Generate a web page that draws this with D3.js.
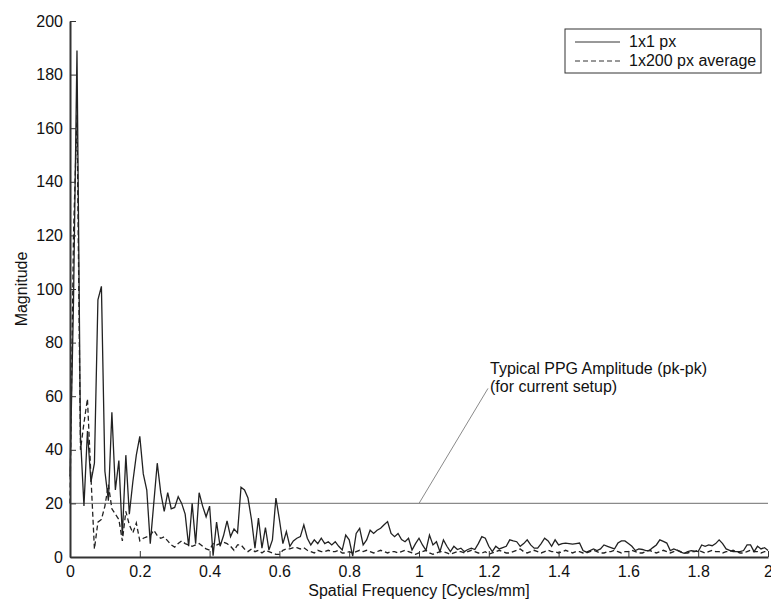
<!DOCTYPE html>
<html lang="en">
<head>
<meta charset="UTF-8">
<title>spatial frequency spectrum</title>
<script src="https://cdn.jsdelivr.net/npm/d3@7"></script>
<style>
    body { margin: 0; background: #fff; }
    svg text { font-family: "Liberation Sans", Arial, sans-serif; fill: #111; }
    .axis path, .axis line { stroke: #333; }
</style>
</head>
<body>
<svg id="chart" width="771" height="601"></svg>
<script>
// frequency bin spacing (cycles/mm)
const binStep = 0.01;

// 1x1 px spectrum, one value per bin from 0 to 2
const single = [
    30, 95, 189, 45, 19, 47, 28, 35, 96, 101,
    32, 21, 54, 25, 36, 8, 38, 16, 28, 38,
    45, 31, 25, 5, 20, 35, 24, 17, 24, 18,
    18.5, 22.5, 20, 16, 4, 20, 5, 24, 19, 15,
    19, 0.5, 13, 4, 8, 13.5, 7.6, 10.5, 9, 26,
    25, 22, 14, 3.3, 14.5, 3.3, 11, 2.6, 6.4, 22,
    14, 5, 9.5, 4, 6, 7, 7.6, 12, 7, 4.5,
    6.4, 5, 7, 5, 5.7, 4.5, 5.7, 4, 2.6, 8.2,
    6.4, 0.3, 8.8, 10.7, 4.5, 6.4, 10, 8.8, 10, 10.7,
    12, 13.2, 8.8, 7.6, 8.8, 6.5, 5.7, 7, 2.6, 5,
    7, 4.5, 2.5, 8.2, 4.5, 5.7, 2, 6.4, 4, 2,
    4, 2.8, 3.3, 2, 2.8, 3.3, 2.8, 5, 7.6, 7,
    4, 2, 4, 3, 3.5, 4, 6.4, 6, 5.7, 4,
    5, 6.4, 4.5, 3.3, 3.3, 5, 7, 6, 4, 6.4,
    4.5, 5, 5.2, 5, 4.8, 5, 5.2, 2.4, 1.8, 2.4,
    3, 2.4, 3, 4.5, 4, 3.5, 3, 5.2, 6, 6,
    5, 4, 2.4, 3, 2.8, 2.4, 2.4, 3.5, 4.5, 6.4,
    5.8, 5.2, 2.4, 3, 2.5, 1.8, 1.4, 2, 2.4, 2.2,
    2, 4.5, 4, 4.5, 4.2, 5, 6.4, 5, 3, 2.5,
    2, 2, 2, 2.4, 4.5, 4.5, 2, 4, 3, 3.5,
    2.4
];

// 1x200 px average spectrum
const averaged = [
    20, 120, 165, 40, 50, 59, 30, 3, 13, 14,
    19, 27, 18, 16, 14, 6, 17, 12, 9, 12.7,
    6, 7, 7.5, 8, 10, 8, 7, 7.5, 6, 4.5,
    3.7, 5, 6, 5, 4.5, 4, 4.5, 5, 4, 3,
    2.6, 5, 4.5, 5, 5.5, 5, 4, 2.5, 4.5, 4.5,
    3, 2, 3, 2, 2.5, 1.5, 2.5, 2, 1.5, 1,
    1, 2.5, 3, 3, 3.5, 3.5, 3, 3.5, 2.5, 2,
    1.5, 2.5, 2, 2, 2.5, 2, 2, 2.5, 1.5, 1.5,
    2, 1.5, 2, 2.5, 2, 2.5, 2, 1.5, 2, 2.5,
    2, 1.5, 2, 2, 1.5, 2, 2.5, 2, 1.5, 1,
    1.5, 2, 2.5, 1.5, 1, 1.5, 2, 2, 1.5, 1,
    1.5, 2, 2, 1.5, 2, 2.5, 2, 1.5, 1.5, 2,
    1, 1.5, 2, 2.5, 2, 1.5, 1.5, 2, 2.5, 3,
    2, 1.5, 2, 2.5, 2, 1.5, 2, 2.5, 2, 2,
    1.5, 2, 2.5, 2, 1.5, 2, 2, 1.5, 1.5, 2,
    2.5, 2, 1.5, 1.5, 2, 2, 2.5, 2, 1.5, 2,
    2, 2.5, 2, 1.5, 1.5, 2, 2.5, 2, 1.5, 2,
    2.5, 2, 1.5, 2, 2.5, 2, 1.5, 1.5, 2, 2,
    2.5, 2, 1.5, 2, 2.5, 2, 2, 1.5, 2, 2,
    2.5, 2, 1.5, 1.5, 2, 2.5, 2, 2, 1.5, 2,
    2
];

const xTicks = [0, 0.2, 0.4, 0.6, 0.8, 1, 1.2, 1.4, 1.6, 1.8, 2];
const yTicks = [0, 20, 40, 60, 80, 100, 120, 140, 160, 180, 200];
const seriesNames = ["1x1 px", "1x200 px average"];
const ppgLevel = 20;
const ppgNote = ["Typical PPG Amplitude (pk-pk)", "(for current setup)"];
const ppgNoteAt = 1.0;

const svg = d3.select("#chart");
const mLeft = 70, mRight = 768, mTop = 21, mBottom = 557;

const x = d3.scaleLinear().domain([0, 2]).range([mLeft, mRight]);
const y = d3.scaleLinear().domain([0, 200]).range([mBottom, mTop]);

// PPG reference level
svg.append("line")
    .attr("x1", x(0)).attr("x2", x(2))
    .attr("y1", y(ppgLevel)).attr("y2", y(ppgLevel))
    .attr("stroke", "#8a8a8a").attr("stroke-width", 1.2);

// leader line to the note
svg.append("line")
    .attr("x1", x(ppgNoteAt)).attr("y1", y(ppgLevel))
    .attr("x2", x(ppgNoteAt) + 69).attr("y2", y(ppgLevel) - 115)
    .attr("stroke", "#8a8a8a").attr("stroke-width", 1);

svg.selectAll(".note").data(ppgNote).enter().append("text")
    .attr("x", x(ppgNoteAt) + 71)
    .attr("y", (d, i) => y(ppgLevel) - 129 + i * 18)
    .attr("font-size", 16)
    .text(d => d);

const line = d3.line()
    .x((d, i) => x(i * binStep))
    .y(d => y(d));

svg.append("path").datum(averaged)
    .attr("d", line)
    .attr("fill", "none").attr("stroke", "#222")
    .attr("stroke-width", 1.3).attr("stroke-dasharray", "5,3");

svg.append("path").datum(single)
    .attr("d", line)
    .attr("fill", "none").attr("stroke", "#222")
    .attr("stroke-width", 1.3);

// axes, ticks pointing inward
svg.append("g").attr("class", "axis")
    .attr("transform", `translate(0,${mBottom})`)
    .call(d3.axisBottom(x).tickValues(xTicks).tickFormat(d3.format("")).tickSizeInner(-6).tickSizeOuter(0).tickPadding(9))
    .call(g => g.select(".domain").attr("stroke-width", 2))
    .call(g => g.selectAll("text").attr("font-size", 16).style("fill", "#111"));

svg.append("g").attr("class", "axis")
    .attr("transform", `translate(${mLeft},0)`)
    .call(d3.axisLeft(y).tickValues(yTicks).tickSizeInner(-6).tickSizeOuter(0).tickPadding(7))
    .call(g => g.select(".domain").attr("stroke-width", 2).attr("stroke", "#555"))
    .call(g => g.selectAll("text").attr("font-size", 16).style("fill", "#111"));

svg.append("text")
    .attr("x", (mLeft + mRight) / 2).attr("y", 596)
    .attr("text-anchor", "middle").attr("font-size", 16)
    .text("Spatial Frequency [Cycles/mm]");

svg.append("text")
    .attr("transform", `translate(27,${(mTop + mBottom) / 2}) rotate(-90)`)
    .attr("text-anchor", "middle").attr("font-size", 16)
    .text("Magnitude");

// legend
const legend = svg.append("g").attr("transform", "translate(565,29)");
legend.append("rect")
    .attr("width", 196).attr("height", 44)
    .attr("fill", "#fff").attr("stroke", "#333").attr("stroke-width", 1);
legend.selectAll(".key").data(seriesNames).enter().append("line")
    .attr("x1", 10).attr("x2", 55)
    .attr("y1", (d, i) => 13 + i * 19).attr("y2", (d, i) => 13 + i * 19)
    .attr("stroke", "#333").attr("stroke-width", 1)
    .attr("stroke-dasharray", (d, i) => i ? "5,3" : null);
legend.selectAll(".label").data(seriesNames).enter().append("text")
    .attr("x", 64).attr("y", (d, i) => 18 + i * 19)
    .attr("font-size", 16)
    .text(d => d);
</script>
</body>
</html>
